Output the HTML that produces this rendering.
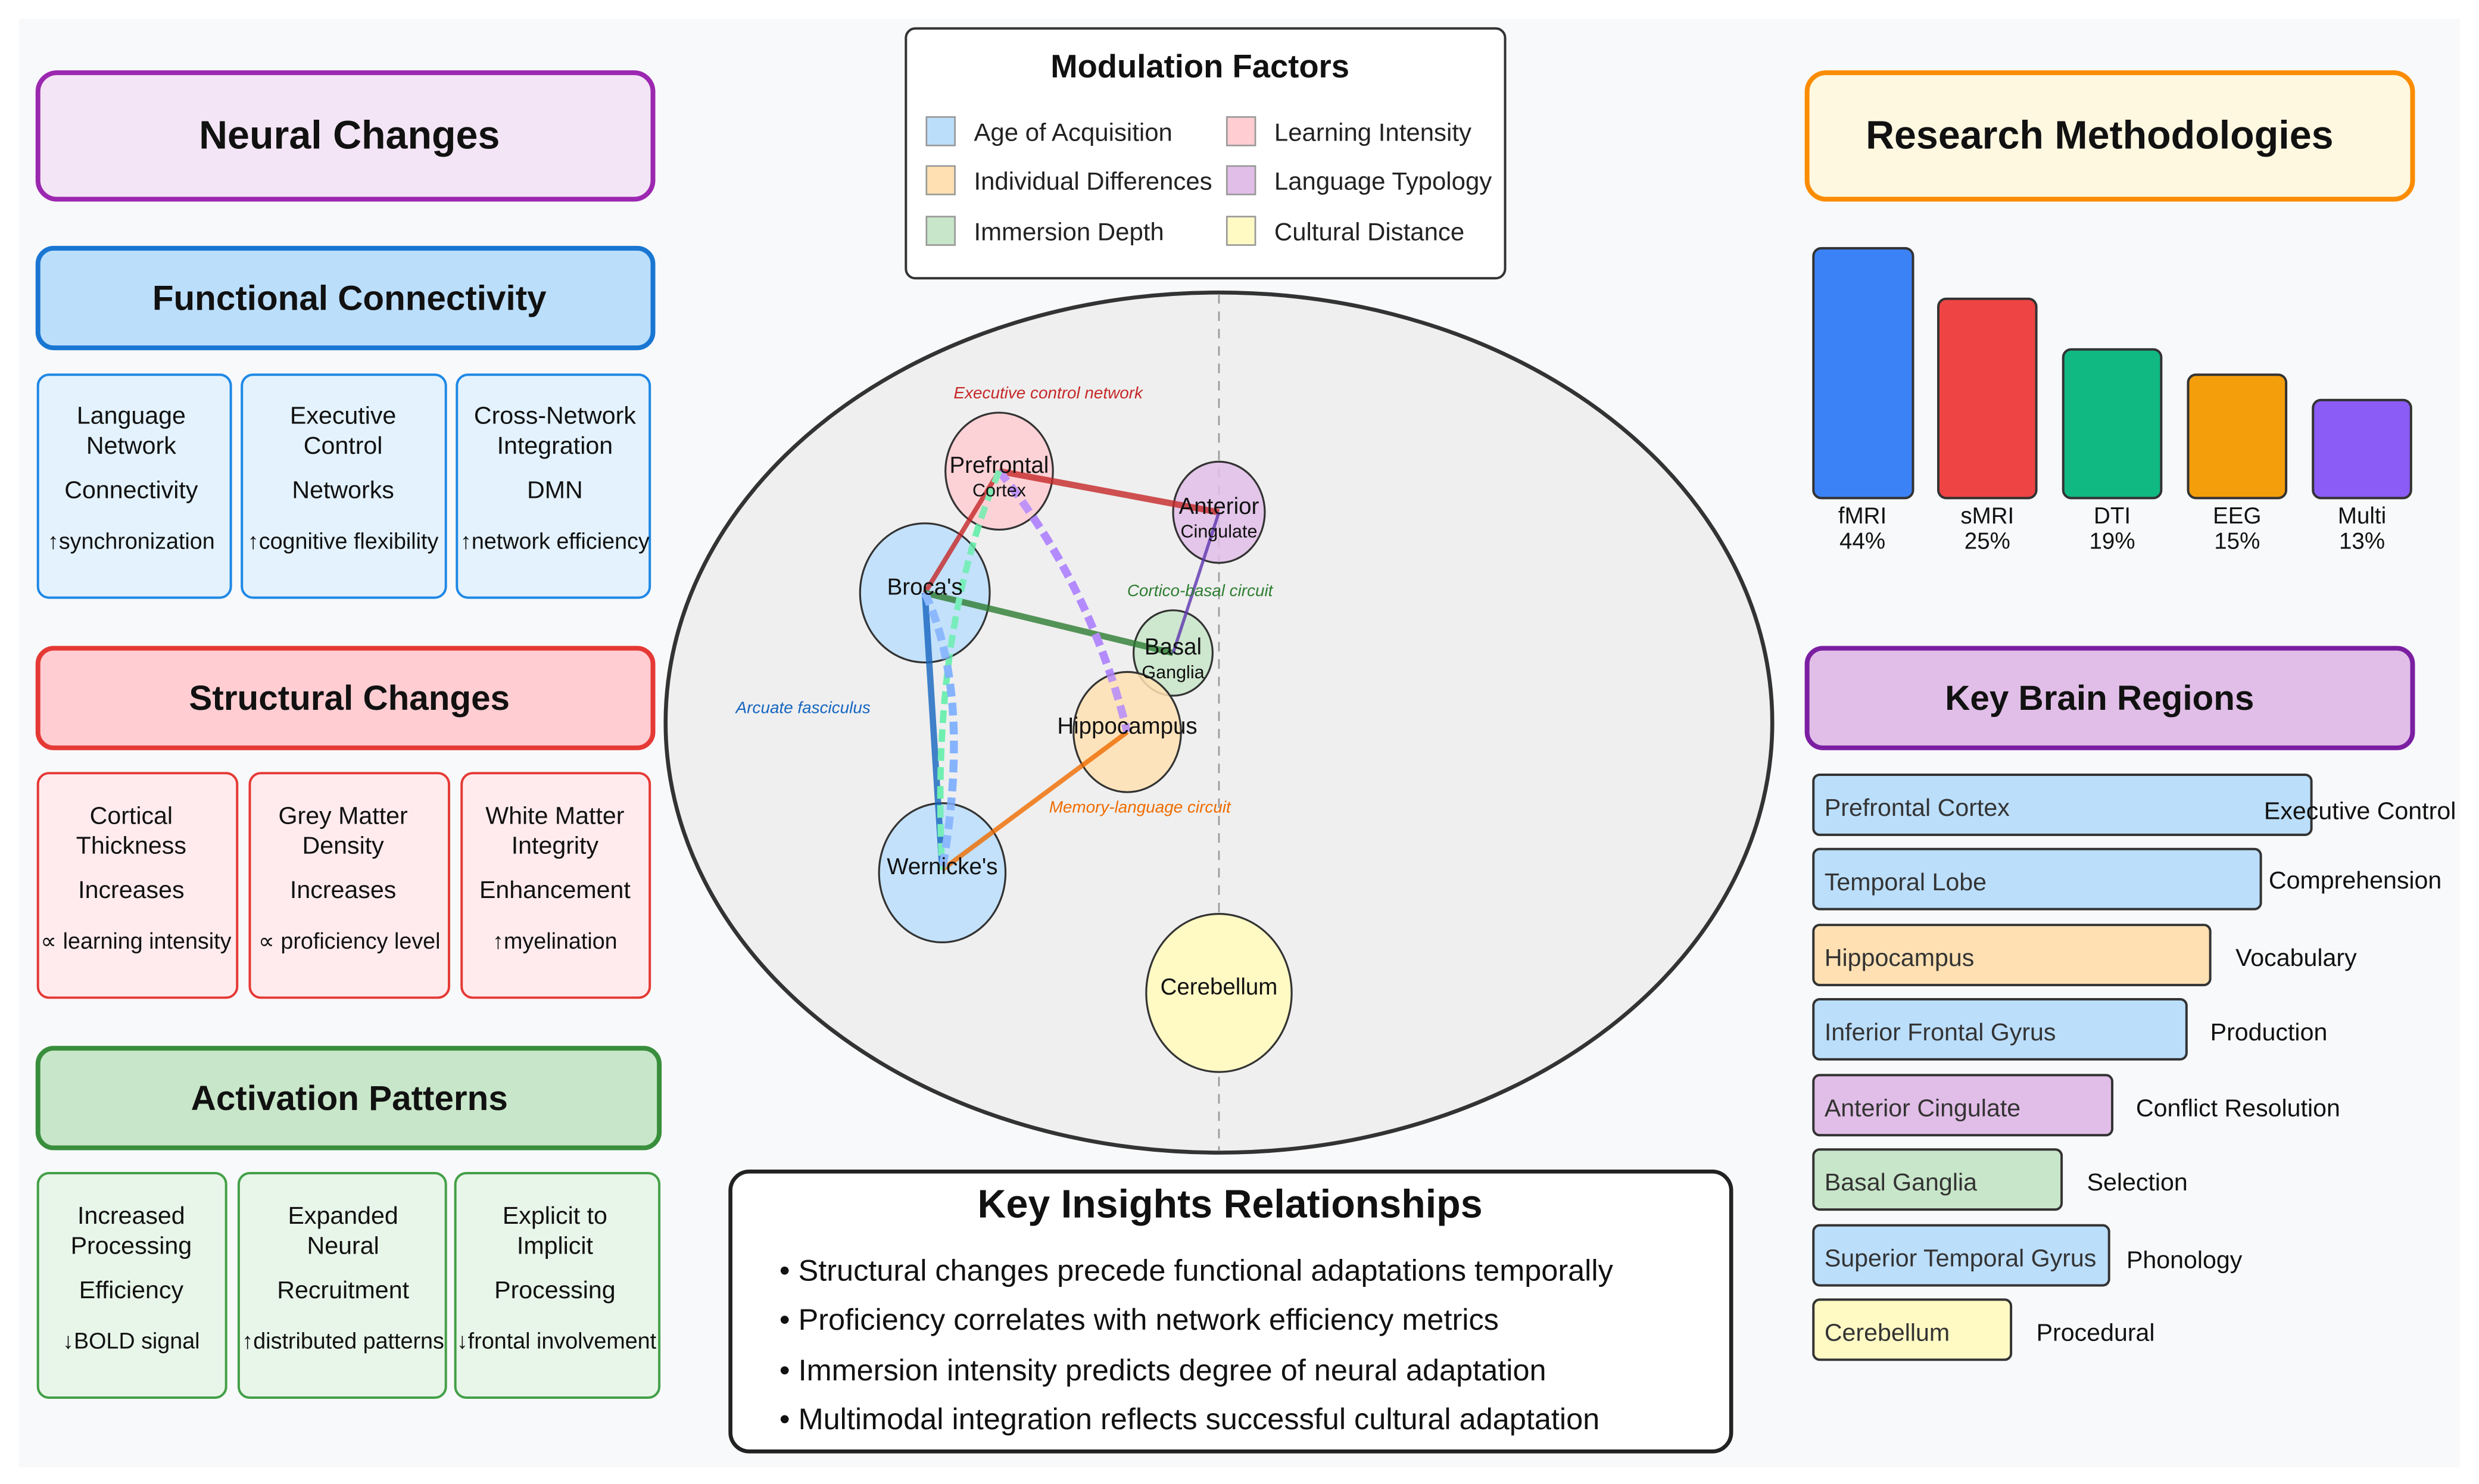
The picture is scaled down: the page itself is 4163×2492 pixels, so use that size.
<!DOCTYPE html>
<html><head><meta charset="utf-8"><style>
html,body{margin:0;padding:0;background:#fff;}
svg{display:block;font-family:"Liberation Sans",Arial,sans-serif;}
</style></head><body>
<svg width="4163" height="2492" viewBox="0 0 1568 938.6" preserveAspectRatio="none" xmlns="http://www.w3.org/2000/svg">
<rect x="0" y="0" width="1568" height="938.6" fill="#fff"/>
<rect x="12" y="12" width="1544" height="916" fill="#f8f9fa"/>

<g stroke-width="3">
<rect x="24" y="46" width="389" height="80" rx="12" fill="#f3e5f5" stroke="#9c27b0"/>
<rect x="24" y="157" width="389" height="63" rx="10" fill="#bbdefb" stroke="#1976d2"/>
<rect x="24" y="410" width="389" height="63" rx="10" fill="#ffcdd2" stroke="#e53935"/>
<rect x="24" y="663" width="393" height="63" rx="10" fill="#c8e6c9" stroke="#388e3c"/>
</g>
<g font-weight="bold" text-anchor="middle" fill="#111">
<text x="221" y="94" font-size="25">Neural Changes</text>
<text x="221" y="196" font-size="22">Functional Connectivity</text>
<text x="221" y="449" font-size="22">Structural Changes</text>
<text x="221" y="702" font-size="22">Activation Patterns</text>
</g>
<g stroke-width="1.5">
<rect x="24" y="237" width="122" height="141" rx="7" fill="#e3f2fd" stroke="#1e88e5"/>
<rect x="153" y="237" width="129" height="141" rx="7" fill="#e3f2fd" stroke="#1e88e5"/>
<rect x="289" y="237" width="122" height="141" rx="7" fill="#e3f2fd" stroke="#1e88e5"/>
<rect x="24" y="489" width="126" height="142" rx="7" fill="#ffebee" stroke="#e53935"/>
<rect x="158" y="489" width="126" height="142" rx="7" fill="#ffebee" stroke="#e53935"/>
<rect x="292" y="489" width="119" height="142" rx="7" fill="#ffebee" stroke="#e53935"/>
<rect x="24" y="742" width="119" height="142" rx="7" fill="#e8f5e9" stroke="#43a047"/>
<rect x="151" y="742" width="131" height="142" rx="7" fill="#e8f5e9" stroke="#43a047"/>
<rect x="288" y="742" width="129" height="142" rx="7" fill="#e8f5e9" stroke="#43a047"/>
</g>
<g text-anchor="middle" fill="#111" font-size="15.5">
<text x="83" y="268">Language</text><text x="83" y="287">Network</text><text x="83" y="315">Connectivity</text><text x="83" y="347" font-size="14.2">↑synchronization</text>
<text x="217" y="268">Executive</text><text x="217" y="287">Control</text><text x="217" y="315">Networks</text><text x="217" y="347" font-size="14.2">↑cognitive flexibility</text>
<text x="351" y="268">Cross-Network</text><text x="351" y="287">Integration</text><text x="351" y="315">DMN</text><text x="351" y="347" font-size="14.2">↑network efficiency</text>
<text x="83" y="521">Cortical</text><text x="83" y="540">Thickness</text><text x="83" y="568">Increases</text><text x="86" y="600" font-size="14.2">∝ learning intensity</text>
<text x="217" y="521">Grey Matter</text><text x="217" y="540">Density</text><text x="217" y="568">Increases</text><text x="221" y="600" font-size="14.2">∝ proficiency level</text>
<text x="351" y="521">White Matter</text><text x="351" y="540">Integrity</text><text x="351" y="568">Enhancement</text><text x="351" y="600" font-size="14.2">↑myelination</text>
<text x="83" y="774">Increased</text><text x="83" y="793">Processing</text><text x="83" y="821">Efficiency</text><text x="83" y="853" font-size="14.2">↓BOLD signal</text>
<text x="217" y="774">Expanded</text><text x="217" y="793">Neural</text><text x="217" y="821">Recruitment</text><text x="217" y="853" font-size="14.2">↑distributed patterns</text>
<text x="351" y="774">Explicit to</text><text x="351" y="793">Implicit</text><text x="351" y="821">Processing</text><text x="352" y="853" font-size="14.2">↓frontal involvement</text>
</g>

<rect x="573" y="18" width="379" height="158" rx="6" fill="#fff" stroke="#333" stroke-width="1.5"/>
<text x="759" y="49" text-anchor="middle" font-size="20.5" font-weight="bold" fill="#111">Modulation Factors</text>
<g stroke="#999" stroke-width="1">
<rect x="586" y="74" width="18" height="18" fill="#bbdefb"/>
<rect x="586" y="105" width="18" height="18" fill="#ffe0b2"/>
<rect x="586" y="137" width="18" height="18" fill="#c8e6c9"/>
<rect x="776" y="74" width="18" height="18" fill="#ffcdd2"/>
<rect x="776" y="105" width="18" height="18" fill="#e1bee7"/>
<rect x="776" y="137" width="18" height="18" fill="#fff9c4"/>
</g>
<g font-size="15.8" fill="#222">
<text x="616" y="89">Age of Acquisition</text>
<text x="616" y="120">Individual Differences</text>
<text x="616" y="152">Immersion Depth</text>
<text x="806" y="89">Learning Intensity</text>
<text x="806" y="120">Language Typology</text>
<text x="806" y="152">Cultural Distance</text>
</g>

<ellipse cx="771" cy="457" rx="350" ry="272" fill="#efefef" stroke="#333" stroke-width="2.5"/>
<line x1="771" y1="186" x2="771" y2="728" stroke="#999" stroke-width="1" stroke-dasharray="6,5"/>
<g fill="none">
<path d="M632 298 Q690 370 713 463" stroke="#b388ff" stroke-width="5" stroke-dasharray="8,4" opacity="0.85"/>
<path d="M632 298 Q588 400 596 550" stroke="#69f0ae" stroke-width="4" stroke-dasharray="8,4" opacity="0.7"/>
<path d="M585 375 Q615 440 596 550" stroke="#82b1ff" stroke-width="5" stroke-dasharray="8,4" opacity="0.8"/>
</g>
<g stroke="#333" stroke-width="1.2" fill-opacity="0.85">
<ellipse cx="632" cy="298" rx="34" ry="37" fill="#ffcdd2"/>
<ellipse cx="771" cy="324" rx="29" ry="32" fill="#e1bee7"/>
<ellipse cx="585" cy="375" rx="41" ry="44" fill="#bbdefb"/>
<ellipse cx="742" cy="413" rx="25" ry="27" fill="#c8e6c9"/>
<ellipse cx="713" cy="463" rx="34" ry="38" fill="#ffe0b2"/>
<ellipse cx="596" cy="552" rx="40" ry="44" fill="#bbdefb"/>
<ellipse cx="771" cy="628" rx="46" ry="50" fill="#fff9c4" fill-opacity="1"/>
</g>
<g fill="none" opacity="0.8">
<line x1="632" y1="298" x2="771" y2="324" stroke="#c62828" stroke-width="4"/>
<line x1="632" y1="298" x2="585" y2="375" stroke="#c62828" stroke-width="3"/>
<line x1="585" y1="375" x2="742" y2="413" stroke="#2e7d32" stroke-width="4"/>
<line x1="771" y1="324" x2="742" y2="413" stroke="#5e35b1" stroke-width="2"/>
<line x1="585" y1="375" x2="596" y2="550" stroke="#1565c0" stroke-width="4"/>
<line x1="713" y1="463" x2="596" y2="550" stroke="#ef6c00" stroke-width="3"/>
<path d="M632 298 Q690 370 713 463" stroke="#b388ff" stroke-width="5" stroke-dasharray="8,4"/>
<path d="M632 298 Q588 400 596 550" stroke="#69f0ae" stroke-width="4" stroke-dasharray="8,4"/>
<path d="M585 375 Q615 440 596 550" stroke="#82b1ff" stroke-width="5" stroke-dasharray="8,4"/>
</g>
<g text-anchor="middle" fill="#111">
<text x="632" y="299" font-size="14.5">Prefrontal</text><text x="632" y="314" font-size="11.5">Cortex</text>
<text x="771" y="325" font-size="14.5">Anterior</text><text x="771" y="340" font-size="11.5">Cingulate</text>
<text x="585" y="376" font-size="14.5">Broca's</text>
<text x="742" y="414" font-size="14.5">Basal</text><text x="742" y="429" font-size="11.5">Ganglia</text>
<text x="713" y="464" font-size="14.5">Hippocampus</text>
<text x="596" y="553" font-size="14.5">Wernicke's</text>
<text x="771" y="629" font-size="14.5">Cerebellum</text>
</g>
<g font-size="10.5" font-style="italic" text-anchor="middle">
<text x="663" y="252" fill="#c62828">Executive control network</text>
<text x="759" y="377" fill="#2e7d32">Cortico-basal circuit</text>
<text x="508" y="451" fill="#1565c0">Arcuate fasciculus</text>
<text x="721" y="514" fill="#ef6c00">Memory-language circuit</text>
</g>

<rect x="462" y="741" width="633" height="177" rx="12" fill="#fff" stroke="#222" stroke-width="2.5"/>
<text x="778" y="770" text-anchor="middle" font-size="25" font-weight="bold" fill="#111">Key Insights Relationships</text>
<g font-size="19" fill="#111">
<text x="493" y="810">• Structural changes precede functional adaptations temporally</text>
<text x="493" y="841">• Proficiency correlates with network efficiency metrics</text>
<text x="493" y="873">• Immersion intensity predicts degree of neural adaptation</text>
<text x="493" y="904">• Multimodal integration reflects successful cultural adaptation</text>
</g>

<rect x="1143" y="46" width="383" height="80" rx="12" fill="#fff8e1" stroke="#fb8c00" stroke-width="3"/>
<text x="1328" y="94" text-anchor="middle" font-size="25" font-weight="bold" fill="#111">Research Methodologies</text>
<g stroke="#333" stroke-width="1.5">
<rect x="1147" y="157" width="63" height="158" rx="5" fill="#3b82f6"/>
<rect x="1226" y="189" width="62" height="126" rx="5" fill="#ef4444"/>
<rect x="1305" y="221" width="62" height="94" rx="5" fill="#10b981"/>
<rect x="1384" y="237" width="62" height="78" rx="5" fill="#f59e0b"/>
<rect x="1463" y="253" width="62" height="62" rx="5" fill="#8b5cf6"/>
</g>
<g font-size="14.5" text-anchor="middle" fill="#111">
<text x="1178" y="331">fMRI</text><text x="1178" y="347">44%</text>
<text x="1257" y="331">sMRI</text><text x="1257" y="347">25%</text>
<text x="1336" y="331">DTI</text><text x="1336" y="347">19%</text>
<text x="1415" y="331">EEG</text><text x="1415" y="347">15%</text>
<text x="1494" y="331">Multi</text><text x="1494" y="347">13%</text>
</g>

<rect x="1143" y="410" width="383" height="63" rx="10" fill="#e1bee7" stroke="#7b1fa2" stroke-width="3"/>
<text x="1328" y="449" text-anchor="middle" font-size="22" font-weight="bold" fill="#111">Key Brain Regions</text>
<g stroke="#333" stroke-width="1.5">
<rect x="1147" y="490" width="315" height="38" rx="4" fill="#bbdefb"/>
<rect x="1147" y="537" width="283" height="38" rx="4" fill="#bbdefb"/>
<rect x="1147" y="585" width="251" height="38" rx="4" fill="#ffe0b2"/>
<rect x="1147" y="632" width="236" height="38" rx="4" fill="#bbdefb"/>
<rect x="1147" y="680" width="189" height="38" rx="4" fill="#e1bee7"/>
<rect x="1147" y="727" width="157" height="38" rx="4" fill="#c8e6c9"/>
<rect x="1147" y="775" width="187" height="38" rx="4" fill="#bbdefb"/>
<rect x="1147" y="822" width="125" height="38" rx="4" fill="#fff9c4"/>
</g>
<g font-size="15.5" fill="#333">
<text x="1154" y="516">Prefrontal Cortex</text>
<text x="1154" y="563">Temporal Lobe</text>
<text x="1154" y="611">Hippocampus</text>
<text x="1154" y="658">Inferior Frontal Gyrus</text>
<text x="1154" y="706">Anterior Cingulate</text>
<text x="1154" y="753">Basal Ganglia</text>
<text x="1154" y="801">Superior Temporal Gyrus</text>
<text x="1154" y="848">Cerebellum</text>
</g>
<g font-size="15.5" fill="#111">
<text x="1432" y="518">Executive Control</text>
<text x="1435" y="562">Comprehension</text>
<text x="1414" y="611">Vocabulary</text>
<text x="1398" y="658">Production</text>
<text x="1351" y="706">Conflict Resolution</text>
<text x="1320" y="753">Selection</text>
<text x="1345" y="802">Phonology</text>
<text x="1288" y="848">Procedural</text>
</g>
</svg>
</body></html>
